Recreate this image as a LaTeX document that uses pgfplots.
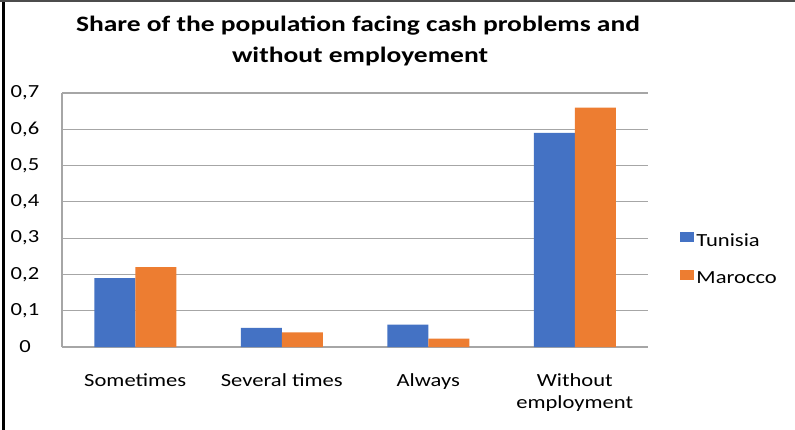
\documentclass[border=0pt]{standalone}
\usepackage{fontspec}
\setmainfont{Carlito}[FakeStretch=1.22]
\newfontfamily\titlefont{Carlito}[FakeStretch=1.25]
\usepackage{pgfplots}
\pgfplotsset{compat=1.18}
\definecolor{tunblue}{HTML}{4472C4}
\definecolor{marorange}{HTML}{ED7D31}
\definecolor{gridgray}{HTML}{A6A6A6}

\pgfplotstableread{
idx tunisia marocco
0   0.19    0.22
1   0.053   0.040
2   0.062   0.023
3   0.59    0.66
}\cashdata

\begin{document}
\begin{tikzpicture}
\useasboundingbox (0bp,0bp) rectangle (795bp,430bp);
\fill[white] (0bp,0bp) rectangle (795bp,430bp);
% frame of the screenshot
\draw[line width=3bp] (3.5bp,0bp) -- (3.5bp,430bp);
\draw[line width=2bp,black!70] (0bp,429bp) -- (795bp,429bp);

\node[anchor=base,font=\titlefont\fontsize{22bp}{26bp}\selectfont\bfseries] at (358bp,398bp) {Share of the population facing cash problems and};
\node[anchor=base,font=\titlefont\fontsize{22bp}{26bp}\selectfont\bfseries] at (360bp,367bp) {without employement};

\begin{axis}[
  at={(62bp,83bp)}, anchor=south west,
  scale only axis,
  width=586bp, height=254bp,
  ybar, bar width=41bp,
  xmin=-0.5, xmax=3.5,
  ymin=0, ymax=0.7,
  ytick={0,0.1,...,0.7},
  xtick=data,
  xticklabels={Sometimes,Several times,Always,{Without\\employment}},
  x tick label style={align=center, anchor=north, yshift=-23bp,
    font=\fontsize{18.5bp}{22.5bp}\selectfont},
  y tick label style={anchor=center, xshift=-37bp,
    font=\fontsize{18.5bp}{22bp}\selectfont},
  /pgf/number format/assume math mode=true,
  /pgf/number format/use comma,
  /pgf/number format/fixed,
  major tick length=0pt,
  ymajorgrids=true,
  grid style={gridgray, line width=1.2bp},
  axis x line*=bottom,
  axis y line*=left,
  axis line style={gridgray, line width=1.2bp, -},
  legend style={draw=none, fill=none, at={(1.05,0.345)}, anchor=west,
    font=\fontsize{18.5bp}{22bp}\selectfont, row sep=20bp},
  legend cell align=left,
  legend image code/.code={\fill[#1] (1bp,-1bp) rectangle (15bp,9bp);},
  clip=false,
]
\addplot[fill=tunblue, draw=none, bar shift=-20.5bp] table[x=idx,y=tunisia] {\cashdata};
\addplot[fill=marorange, draw=none, bar shift=20.5bp] table[x=idx,y=marocco] {\cashdata};
\legend{Tunisia,Marocco}
\end{axis}
\end{tikzpicture}
\end{document}
